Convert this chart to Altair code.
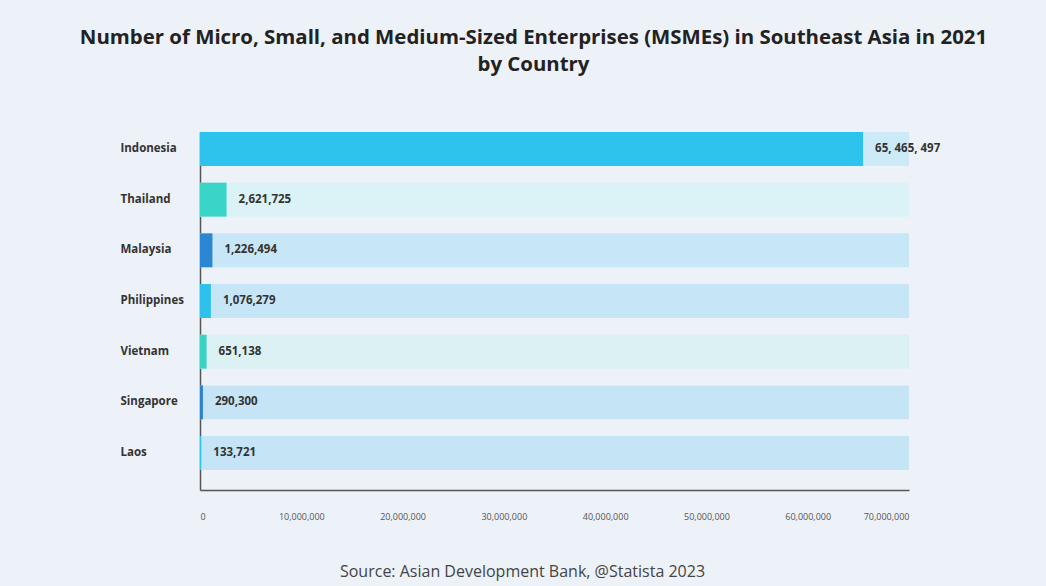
import altair as alt
import pandas as pd

countries = ["Indonesia", "Thailand", "Malaysia", "Philippines", "Vietnam", "Singapore", "Laos"]
values = [65465497, 2621725, 1226494, 1076279, 651138, 290300, 133721]
value_labels = ["65, 465, 497", "2,621,725", "1,226,494", "1,076,279", "651,138", "290,300", "133,721"]
bar_colors = ["#2DC3EC", "#3AD5C9", "#2B87D3", "#2EC1EE", "#3AD4C4", "#2B82CF", "#2EC6EE"]
track_colors = ["#CDEAF8", "#DBF2F6", "#C7E6F7", "#C6E6F7", "#DBF1F4", "#C5E5F7", "#C5E5F7"]
track_max = 70000000
x_ticks = [0, 10000000, 20000000, 30000000, 40000000, 50000000, 60000000, 70000000]

df = pd.DataFrame({
    "country": countries,
    "value": values,
    "label": value_labels,
    "color": bar_colors,
    "track_color": track_colors,
    "track": [track_max] * len(countries),
})

y_enc = alt.Y(
    "country:N",
    sort=countries,
    scale=alt.Scale(paddingInner=0.33, paddingOuter=0.197, align=0),
    axis=alt.Axis(
        title=None, ticks=False, grid=False, domain=True,
        domainColor="#555555", domainWidth=1.5,
        labelAlign="left", labelPadding=80, labelBaseline="middle",
        labelFont="Open Sans", labelFontWeight="bold", labelFontSize=11.5,
        labelColor="#333333",
    ),
)

x_scale = alt.Scale(domain=[0, track_max], nice=False)
x_axis = alt.Axis(
    values=x_ticks, labelExpr="format(datum.value, ',')", ticks=False, grid=False, domain=True,
    domainColor="#555555", domainWidth=1.5,
    labelPadding=22, labelFont="Open Sans", labelFontSize=9, labelColor="#555555",
    title="Source: Asian Development Bank, @Statista 2023",
    titleFont="Open Sans", titleFontWeight="normal", titleFontSize=16,
    titleColor="#444444", titleX=322, titleY=81, titleAlign="center",
    titleBaseline="middle",
)

base = alt.Chart(df)

tracks = base.mark_bar().encode(
    y=y_enc,
    x=alt.X("track:Q", scale=x_scale, axis=x_axis),
    color=alt.Color("track_color:N", scale=None),
)

bars = base.mark_bar().encode(
    y=alt.Y("country:N", sort=countries),
    x=alt.X("value:Q"),
    color=alt.Color("color:N", scale=None),
)

labels = base.mark_text(
    align="left", baseline="middle", dx=12,
    font="Open Sans", fontWeight="bold", fontSize=11.5, color="#333333",
).encode(
    y=alt.Y("country:N", sort=countries),
    x=alt.X("value:Q"),
    text="label:N",
)

chart = alt.layer(tracks, bars, labels).properties(
    width=709,
    height=358,
    background="#EDF1F8",
    autosize=alt.AutoSizeParams(type="none"),
    padding={"left": 200, "top": 132, "right": 137, "bottom": 96},
    title=alt.TitleParams(
        text=["Number of Micro, Small, and Medium-Sized Enterprises (MSMEs) in Southeast Asia in 2021",
              "by Country"],
        font="Open Sans", fontWeight="bold", fontSize=20.4, color="#222222",
        anchor="middle", frame="group", dx=-21, offset=57, lineHeight=27,
    ),
).configure_view(stroke=None)

chart.save("out.html", embed_options={"renderer": "svg", "actions": False})
